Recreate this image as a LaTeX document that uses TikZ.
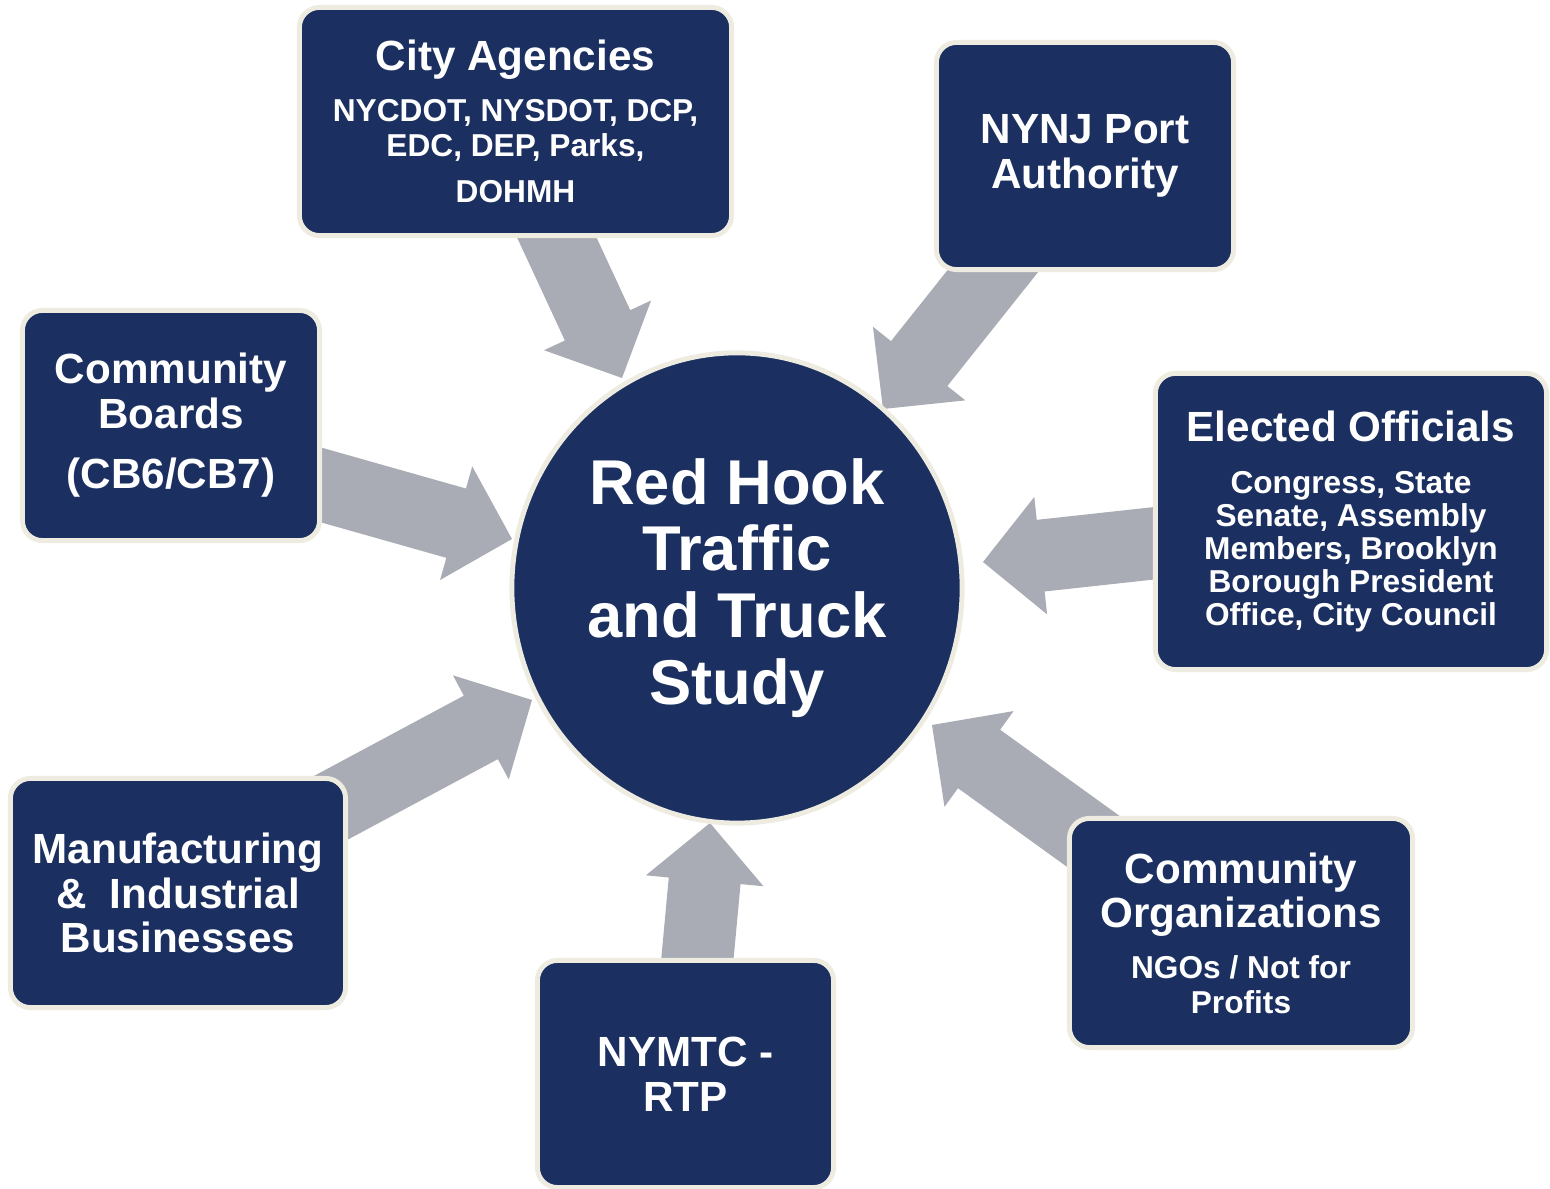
\documentclass[tikz,border=0pt]{standalone}
\usepackage{fontspec}
\setmainfont{Liberation Sans}
\usetikzlibrary{calc,shapes.geometric}
\definecolor{navy}{HTML}{1B3060}
\definecolor{cream}{HTML}{EEEBE1}
\definecolor{agray}{HTML}{A9ACB5}
\newcommand\ttlfont{\fontsize{12}{12.7}\selectfont}
\newcommand\subfont{\fontsize{9}{9.7}\selectfont}
\newcommand\blockarr[2]{%
  \coordinate (#1-n) at ($(#2)!0.58cm!(#1)$);
  \fill[agray] ($(#1)!0.36cm!90:(#2)$) -- ($(#1-n)!0.36cm!90:(#2)$) -- ($(#1-n)!0.59cm!90:(#2)$) -- (#2)
    -- ($(#1-n)!0.59cm!-90:(#2)$) -- ($(#1-n)!0.36cm!-90:(#2)$) -- ($(#1)!0.36cm!-90:(#2)$) -- cycle;}
\begin{document}
\begin{tikzpicture}[x=0.01cm,y=-0.01cm,
  box/.style={draw=cream, line width=1.4pt, fill=navy, rounded corners=0.2cm, text=white,
    align=center, inner sep=0pt, font=\bfseries\ttlfont},
  hub/.style={ellipse, draw=cream, line width=1.4pt, fill=navy, text=white, align=center,
    inner sep=0pt, font=\bfseries\fontsize{18}{19}\selectfont}]
\useasboundingbox (0,0) rectangle (1550,1189);
\fill[white] (0,0) rectangle (1550,1189);

% arrow ends
\coordinate (t1) at (544,210);  \coordinate (p1) at (622,378);
\coordinate (t2) at (1020,237); \coordinate (p2) at (883,409);
\coordinate (t3) at (1175,541); \coordinate (p3) at (983,562);
\coordinate (t4) at (300,479);  \coordinate (p4) at (512,539);
\coordinate (t5) at (310,819);  \coordinate (p5) at (532,700);
\coordinate (t6) at (695,985);  \coordinate (p6) at (710,823);
\coordinate (t7) at (1126,865); \coordinate (p7) at (932,725);

\blockarr{t1}{p1}
\blockarr{t2}{p2}
\blockarr{t3}{p3}
\blockarr{t4}{p4}
\blockarr{t5}{p5}
\blockarr{t6}{p6}
\blockarr{t7}{p7}

\node[hub, minimum width=4.50cm, minimum height=4.70cm] (study) at (737,588)
  {Red Hook\\Traffic\\and Truck\\Study};

\node[box, minimum width=4.32cm, minimum height=2.28cm] (city) at (515.5,121.5)
  {City Agencies\\[1.8pt]\subfont NYCDOT, NYSDOT, DCP,\\[-2.7pt]\subfont EDC, DEP, Parks,\\[0.4pt]\subfont DOHMH};

\node[box, minimum width=2.97cm, minimum height=2.27cm] (port) at (1085,156)
  {NYNJ Port\\Authority};

\node[box, minimum width=2.97cm, minimum height=2.30cm] (boards) at (171,425.5)
  {Community\\Boards\\[4.4pt](CB6/CB7)};

\node[box, minimum width=3.91cm, minimum height=2.96cm] (elected) at (1351,521.5)
  {Elected Officials\\[2.1pt]\subfont Congress, State\\[-3.3pt]\subfont Senate, Assembly\\[-3.3pt]\subfont Members, Brooklyn\\[-3.3pt]\subfont Borough President\\[-3.3pt]\subfont Office, City Council};

\node[box, minimum width=3.35cm, minimum height=2.29cm] (manuf) at (178,893)
  {Manufacturing\\\&\ \ Industrial\\Businesses};

\node[box, minimum width=2.96cm, minimum height=2.27cm] (nymtc) at (685.5,1074)
  {NYMTC -\\RTP};

\node[box, minimum width=3.43cm, minimum height=2.29cm] (orgs) at (1241,933)
  {Community\\Organizations\\[1.8pt]\subfont NGOs / Not for\\[-3pt]\subfont Profits};
\end{tikzpicture}
\end{document}
